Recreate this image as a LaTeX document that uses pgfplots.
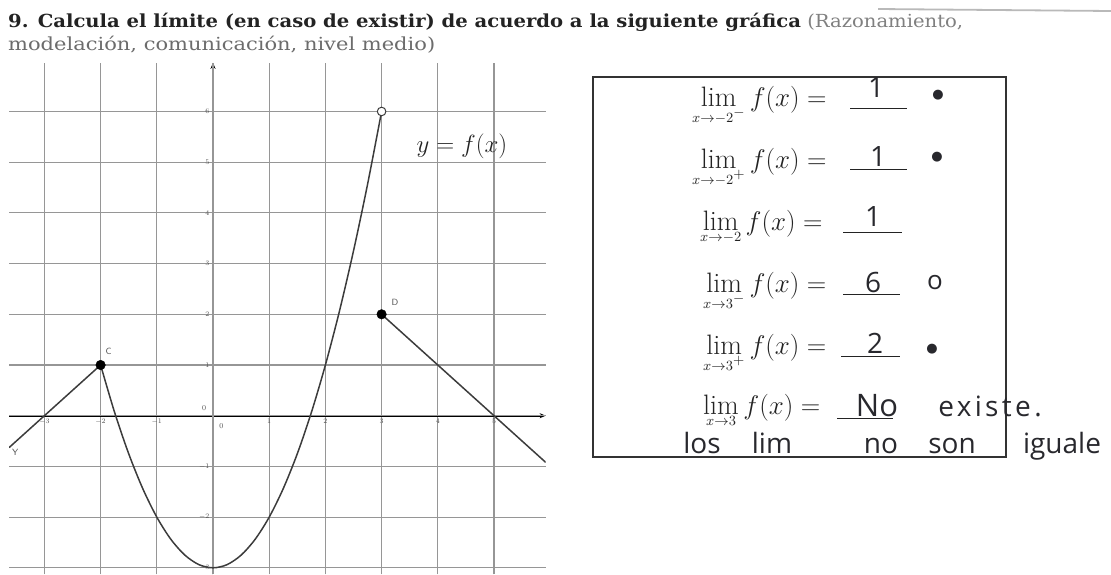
\documentclass[border=0pt]{standalone}
\usepackage{fontspec}
\usepackage{graphicx}
\usepackage{pgfplots}
\pgfplotsset{compat=1.18}
\usetikzlibrary{arrows.meta}

\newfontfamily\titlefont{DejaVu Serif}
\newfontfamily\hand{Open Sans}
\newfontfamily\sym{DejaVu Sans}

\definecolor{ink}{RGB}{35,35,35}
\definecolor{pen}{RGB}{40,40,45}
\definecolor{gridc}{RGB}{150,150,150}
\definecolor{curvec}{RGB}{60,60,60}
\definecolor{tickc}{RGB}{80,80,80}

\newcommand\limrow[1]{\scalebox{1.56}{\fontsize{18}{22}\selectfont$\displaystyle\lim_{\scriptscriptstyle #1} f(x) =$}}

\begin{document}
\begin{tikzpicture}[x=1pt,y=-1pt]
\useasboundingbox (0,0) rectangle (1111,574);

% title (two lines)
\draw[gray!55, line width=1.8pt] (878,9) -- (1111,11);
\node[anchor=base west, inner sep=0, text=ink] at (8,27)
  {\resizebox{955pt}{\height}{\titlefont\fontsize{18}{22}\selectfont
   \textbf{9. Calcula el límite (en caso de existir) de acuerdo a la siguiente gráfica}
   {\color{gray}(Razonamiento,}}};
\node[anchor=base west, inner sep=0, text=gray!85!black] at (8,50)
  {\resizebox{427pt}{\height}{\titlefont\fontsize{18}{22}\selectfont
   modelación, comunicación, nivel medio)}};

% the graph
\begin{axis}[
    at={(213pt,-415.7pt)}, anchor=origin,
    scale only axis, width=536.7pt, height=511.6pt,
    xmin=-3.63, xmax=5.92, ymin=-3.13, ymax=6.96,
    enlargelimits=false,
    axis lines=middle,
    axis line style={line width=1.7pt, black},
    every inner x axis line/.append style={-{Stealth[length=6pt,width=5pt]}},
    every inner y axis line/.append style={-{Stealth[length=6pt,width=5pt]}},
    xtick={-3,-2,-1,1,2,3,4,5},
    ytick={-3,-2,-1,1,2,3,4,5,6},
    extra x ticks={0}, extra x tick labels={},
    extra y ticks={0}, extra y tick labels={},
    grid=major,
    major grid style={gridc, line width=1.2pt},
    major tick length=0pt,
    ticklabel style={font=\fontsize{7.5}{8}\selectfont, text=tickc},
    clip=true,
]
\addplot[curvec, line width=1.5pt] coordinates {(-3.63,-0.63) (-2,1)};
\addplot[curvec, line width=1.5pt, smooth] coordinates {
  (-2,1) (-1.75,0.0625) (-1.5,-0.75) (-1.25,-1.4375) (-1,-2)
  (-0.75,-2.4375) (-0.5,-2.75) (-0.25,-2.9375) (0,-3)
  (0.25,-2.9375) (0.5,-2.75) (0.75,-2.4375) (1,-2)
  (1.25,-1.4375) (1.5,-0.75) (1.75,0.0625) (2,1)
  (2.25,2.0625) (2.5,3.25) (2.75,4.5625) (3,6)};
\addplot[curvec, line width=1.5pt] coordinates {(3,2) (5.92,-0.92)};
\addplot[only marks, mark=*, mark size=4.8pt, black] coordinates {(-2,1) (3,2)};
\addplot[only marks, mark=*, mark size=4.3pt, draw=curvec, fill=white, line width=1pt]
  coordinates {(3,6)};

\node[font=\fontsize{7.5}{8}\selectfont, text=tickc] at (axis cs:0.15,-0.2) {0};
\node[font=\fontsize{7.5}{8}\selectfont, text=tickc] at (axis cs:-0.16,0.15) {0};
\node[font=\sffamily\fontsize{9}{10}\selectfont, text=tickc] at (axis cs:-1.86,1.26) {C};
\node[font=\sffamily\fontsize{9}{10}\selectfont, text=tickc] at (axis cs:3.24,2.24) {D};
\node[font=\sffamily\fontsize{9}{10}\selectfont, text=tickc] at (axis cs:-3.52,-0.72) {Y};
\node[font=\fontsize{23}{26}\selectfont, text=ink]
  at (axis cs:4.43,5.32) {$y = f(x)$};
\end{axis}

% box with the limits
\draw[gray!40!black, line width=1.3pt] (593,77) rectangle (1006,457);

\node[anchor=base west, inner sep=0, text=ink] at (692,106) {\limrow{x\to-2^-}};
\node[anchor=base west, inner sep=0, text=ink] at (692,168) {\limrow{x\to-2^+}};
\node[anchor=base west, inner sep=0, text=ink] at (700,230) {\limrow{x\to-2}};
\node[anchor=base west, inner sep=0, text=ink] at (703,292) {\limrow{x\to3^-}};
\node[anchor=base west, inner sep=0, text=ink] at (703,354) {\limrow{x\to3^+}};
\node[anchor=base west, inner sep=0, text=ink] at (703,414) {\limrow{x\to3}};

% answer lines
\draw[ink, line width=1pt] (850,108) -- (907,108);
\draw[ink, line width=1pt] (850,169) -- (907,169);
\draw[ink, line width=1pt] (843,232) -- (902,232);
\draw[ink, line width=1pt] (843,294) -- (900,294);
\draw[ink, line width=1pt] (841,356) -- (900,356);
\draw[ink, line width=1pt] (837,418) -- (893,418);

% handwritten answers
\tikzset{hw/.style={anchor=base, inner sep=0, text=pen,
                    font=\hand\fontsize{28}{30}\selectfont}}
\node[hw] at (876,97) {1};
\node[hw] at (878,166) {1};
\node[hw] at (873,226) {1};
\node[hw] at (873,292) {6};
\node[hw] at (875,353) {2};
\node[hw, font=\hand\fontsize{31}{32}\selectfont] at (877,416) {No};
\node[hw] at (990,416) {\addfontfeature{LetterSpace=12}existe.};
\node[hw] at (702,453) {los};
\node[hw] at (772,453) {lim};
\node[hw] at (881,453) {no};
\node[hw] at (952,453) {son};
\node[hw] at (1062,453) {iguale};

\tikzset{dot/.style={inner sep=0, text=pen, font=\sym\fontsize{13}{13}\selectfont}}
\node[dot] at (938,95) {●};
\node[dot] at (937,157) {●};
\node[dot] at (932,349) {●};
\node[inner sep=0, text=pen, font=\hand\fontsize{26}{26}\selectfont] at (935,283) {o};
\end{tikzpicture}
\end{document}
